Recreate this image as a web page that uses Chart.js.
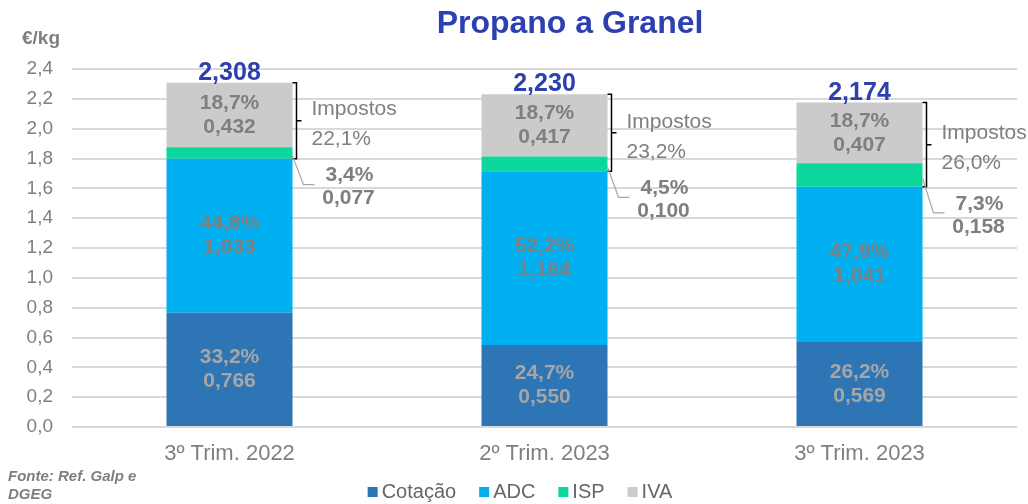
<!DOCTYPE html>
<html>
<head>
<meta charset="utf-8">
<script src="https://cdn.jsdelivr.net/npm/chart.js@4/dist/chart.umd.min.js"></script>
<style>
  html, body { margin: 0; padding: 0; background: #fff; }
  #wrap { width: 1028px; height: 504px; position: relative; }
</style>
</head>
<body>
<div id="wrap"><canvas id="propanoChart"></canvas></div>
<script>
const categories = ["3º Trim. 2022", "2º Trim. 2023", "3º Trim. 2023"];
const seriesNames = ["Cotação", "ADC", "ISP", "IVA"];
const cotacao = [0.766, 0.550, 0.569];
const adc = [1.033, 1.164, 1.041];
const isp = [0.077, 0.100, 0.158];
const iva = [0.432, 0.417, 0.407];
const cotacaoPct = [33.2, 24.7, 26.2];
const adcPct = [44.8, 52.2, 47.9];
const ispPct = [3.4, 4.5, 7.3];
const ivaPct = [18.7, 18.7, 18.7];
const totals = [2.308, 2.230, 2.174];
const impostosPct = [22.1, 23.2, 26.0];
const yTicks = [0, 0.2, 0.4, 0.6, 0.8, 1.0, 1.2, 1.4, 1.6, 1.8, 2.0, 2.2, 2.4];

const FONT = '"Liberation Sans", Arial, sans-serif';
const GREY = "#7F7F7F";
const colors = ["#2E75B6", "#00B0F0", "#0CD89D", "#CCCBCB"];

function fmt(v, d) { return v.toFixed(d).replace(".", ","); }

document.addEventListener("DOMContentLoaded", function () {
    const el = document.getElementById("propanoChart");

    // text, braces, leader lines and legend drawn on top of the bars
    const labelsPlugin = {
        id: "labelsPlugin",
        afterDatasetsDraw(chart) {
            const ctx = chart.ctx;
            const values = [cotacao, adc, isp, iva];
            const pcts = [cotacaoPct, adcPct, ispPct, ivaPct];
            const innerColors = ["#A6A6A6", GREY, null, GREY];
            ctx.save();
            ctx.textAlign = "center";
            ctx.textBaseline = "middle";

            categories.forEach((c, i) => {
                // inside labels
                [0, 1, 3].forEach(d => {
                    const bar = chart.getDatasetMeta(d).data[i];
                    const mid = (bar.y + bar.base) / 2;
                    ctx.font = "bold 21px " + FONT;
                    ctx.fillStyle = innerColors[d];
                    ctx.fillText(fmt(pcts[d][i], 1) + "%", bar.x, mid - 12);
                    ctx.fillText(fmt(values[d][i], 3), bar.x, mid + 12);
                });

                const top = chart.getDatasetMeta(3).data[i];
                const ispBar = chart.getDatasetMeta(2).data[i];
                const right = top.x + top.width / 2;

                // total above bar
                ctx.font = "bold 25px " + FONT;
                ctx.fillStyle = "#2E40B0";
                ctx.textBaseline = "alphabetic";
                ctx.fillText(fmt(totals[i], 3), top.x, top.y - 3);
                ctx.textBaseline = "middle";

                // brace around taxes
                const bTop = top.y, bBot = ispBar.base;
                const bMid = (bTop + bBot) / 2;
                ctx.strokeStyle = "#000";
                ctx.lineWidth = 1.5;
                ctx.beginPath();
                ctx.moveTo(right, bTop);
                ctx.lineTo(right + 4, bTop);
                ctx.lineTo(right + 4, bBot);
                ctx.lineTo(right, bBot);
                ctx.moveTo(right + 4, bMid);
                ctx.lineTo(right + 9, bMid);
                ctx.stroke();

                ctx.textAlign = "left";
                ctx.font = "21px " + FONT;
                ctx.fillStyle = GREY;
                ctx.fillText("Impostos", right + 19, bMid - 11);
                ctx.fillText(fmt(impostosPct[i], 1) + "%", right + 19, bMid + 19);

                // leader line to ISP label
                const ispMid = (ispBar.y + ispBar.base) / 2;
                const endY = ispBar.base + 26;
                ctx.strokeStyle = "#A6A6A6";
                ctx.lineWidth = 1.2;
                ctx.beginPath();
                ctx.moveTo(right, ispMid + 3);
                ctx.lineTo(right + 11, endY);
                ctx.lineTo(right + 22, endY);
                ctx.stroke();

                ctx.textAlign = "center";
                ctx.font = "bold 21px " + FONT;
                ctx.fillText(fmt(ispPct[i], 1) + "%", right + 57, endY - 9);
                ctx.fillText(fmt(isp[i], 3), right + 56, endY + 14);
            });

            // title and notes
            ctx.textAlign = "center";
            ctx.textBaseline = "alphabetic";
            ctx.font = "bold 32px " + FONT;
            ctx.fillStyle = "#2E40B0";
            ctx.fillText("Propano a Granel", 570, 33);

            ctx.textAlign = "left";
            ctx.font = "bold 19px " + FONT;
            ctx.fillStyle = GREY;
            ctx.fillText("€/kg", 22, 44);

            ctx.font = "italic bold 15px " + FONT;
            ctx.fillText("Fonte: Ref. Galp e", 8, 481);
            ctx.fillText("DGEG", 8, 499);

            // legend
            ctx.font = "20px " + FONT;
            ctx.textBaseline = "middle";
            const widths = seriesNames.map(n => 14 + ctx.measureText(n).width);
            const total = widths.reduce((a, b) => a + b, 0) + 23 * (seriesNames.length - 1);
            let x = 520 - total / 2;
            const ly = 492;
            seriesNames.forEach((n, d) => {
                ctx.fillStyle = colors[d];
                ctx.fillRect(x, ly - 5, 10, 10);
                ctx.fillStyle = "#666666";
                ctx.fillText(n, x + 14, ly);
                x += widths[d] + 23;
            });
            ctx.restore();
        }
    };

    new Chart(el.getContext("2d"), {
        type: "bar",
        data: {
            labels: categories,
            datasets: [cotacao, adc, isp, iva].map((vals, d) => ({
                label: seriesNames[d],
                data: vals,
                backgroundColor: colors[d],
                borderWidth: 0,
                barPercentage: 0.4,
                categoryPercentage: 1.0
            }))
        },
        options: {
            responsive: true,
            maintainAspectRatio: false,
            animation: false,
            layout: { padding: { top: 69, right: 11, left: 0, bottom: 37 } },
            plugins: {
                legend: { display: false },
                tooltip: { enabled: false },
                title: { display: false }
            },
            scales: {
                x: {
                    stacked: true,
                    grid: { display: false },
                    border: { display: false },
                    ticks: { font: { family: FONT, size: 22 }, color: GREY, padding: 6 },
                    afterFit: s => { s.height = 40; }
                },
                y: {
                    stacked: true,
                    min: 0,
                    max: 2.4,
                    afterBuildTicks: s => { s.ticks = yTicks.map(v => ({ value: v })); },
                    afterFit: s => { s.width = 72; },
                    grid: { color: "#D9D9D9", lineWidth: 2, drawTicks: false },
                    border: { display: false },
                    ticks: {
                        font: { family: FONT, size: 19 },
                        color: GREY,
                        padding: 19,
                        callback: v => fmt(v, 1)
                    }
                }
            }
        },
        plugins: [labelsPlugin]
    });
});
</script>
</body>
</html>
